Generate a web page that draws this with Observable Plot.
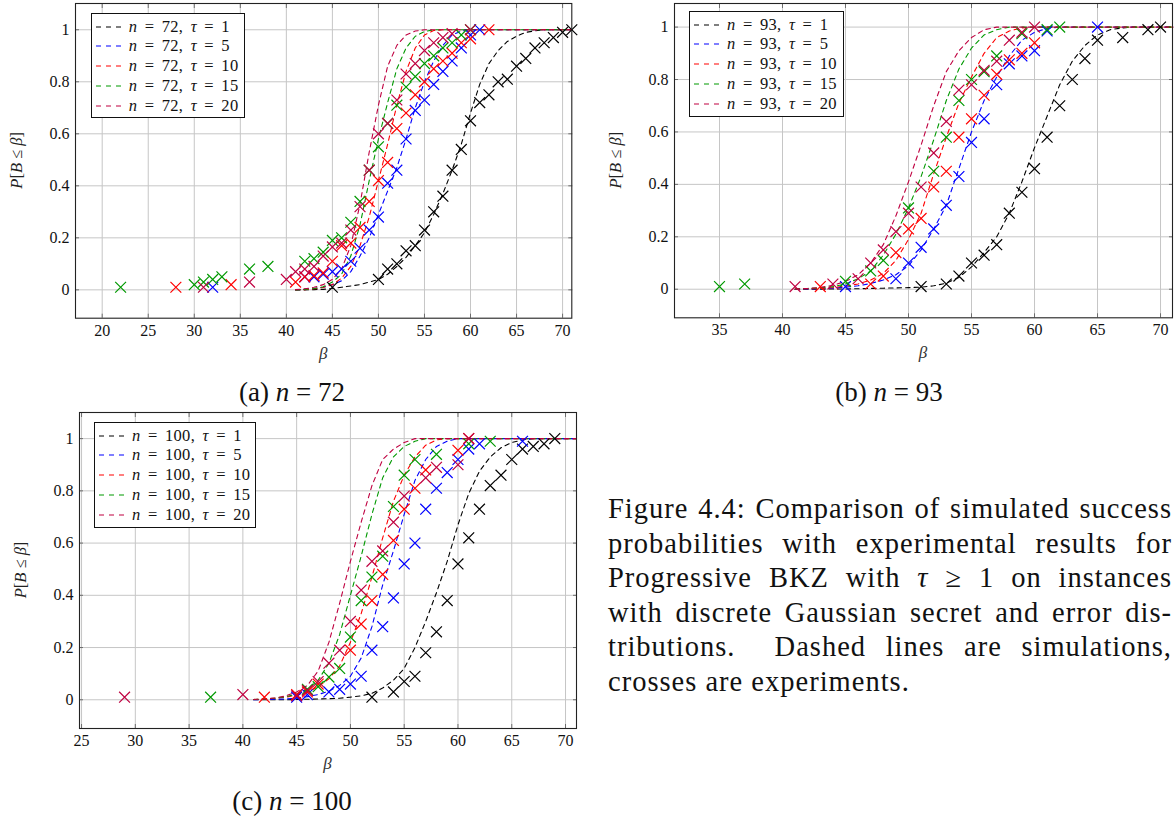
<!DOCTYPE html>
<html>
<head>
<meta charset="utf-8">
<title>Progressive BKZ success probabilities</title>
<script src="https://cdn.jsdelivr.net/npm/d3@7"></script>
<script src="https://cdn.jsdelivr.net/npm/@observablehq/plot@0.6"></script>
<style>
  html, body { margin: 0; padding: 0; background: #fff; }
  #fig { position: relative; width: 1174px; height: 823px; overflow: hidden; background: #fff;
         font-family: "Liberation Serif", "DejaVu Serif", serif; color: #111; }
  .panel { position: absolute; }
  .panel svg { display: block; max-width: none; }
  .panel svg text { font-family: "Liberation Serif", "DejaVu Serif", serif; }
  .legend { position: absolute; box-sizing: border-box; border: 1px solid #111; background: #fff;
            padding-top: 3px; font-size: 16.5px; word-spacing: 3px; letter-spacing: 0.3px; }
  .legend .row { height: 19.75px; display: flex; align-items: center; white-space: nowrap; }
  .legend .row svg { margin-left: 4px; margin-right: 7px; flex: none; }
  .caption { position: absolute; left: 608px; top: 492px; width: 564px; font-size: 28.5px;
             letter-spacing: 1px; line-height: 34.6px; color: #111; }
  .caption span { display: block; text-align: justify; text-align-last: justify; }
  .caption span.last { text-align-last: left; }
  #labels { position: absolute; left: 0; top: 0; pointer-events: none; }
</style>
</head>
<body>
<div id="fig">
  <div class="caption">
    <span>Figure 4.4: Comparison of simulated success</span>
    <span>probabilities with experimental results for</span>
    <span>Progressive BKZ with <i>τ</i> ≥ 1 on instances</span>
    <span>with discrete Gaussian secret and error dis-</span>
    <span>tributions.&nbsp; Dashed lines are simulations,</span>
    <span class="last">crosses are experiments.</span>
  </div>
</div>
<script>
// Block sizes τ and their series colours
const taus = [1, 5, 10, 15, 20];
const seriesColors = ["#000000", "#0000ff", "#ff0000", "#009900", "#bf0040"];

// Axis ticks
const yTicks = [0, 0.2, 0.4, 0.6, 0.8, 1];
const xTicks72 = [20, 25, 30, 35, 40, 45, 50, 55, 60, 65, 70];
const xTicks93 = [35, 40, 45, 50, 55, 60, 65, 70];
const xTicks100 = [25, 30, 35, 40, 45, 50, 55, 60, 65, 70];

// Simulated P[B <= beta] on a common beta grid
const simBeta = [41, 42, 43, 44, 45, 46, 47, 48, 49, 50, 51, 52, 53, 54, 55, 56,
                 57, 58, 59, 60, 61, 62, 63, 64, 65, 66, 67, 68, 69, 70, 71];

const sim72_t1  = [0, 0, 0.001, 0.002, 0.005, 0.01, 0.015, 0.02, 0.03, 0.04, 0.06, 0.09, 0.125, 0.17, 0.22, 0.29,
                   0.37, 0.46, 0.56, 0.68, 0.79, 0.87, 0.92, 0.955, 0.975, 0.99, 0.996, 1, 1, 1, 1];
const sim72_t5  = [0, 0.002, 0.005, 0.01, 0.02, 0.035, 0.07, 0.13, 0.2, 0.29, 0.38, 0.47, 0.58, 0.7, 0.8, 0.88,
                   0.94, 0.98, 0.995, 1, 1, 1, 1, 1, 1, 1, 1, 1, 1, 1, 1];
const sim72_t10 = [0, 0.001, 0.004, 0.009, 0.02, 0.045, 0.09, 0.17, 0.28, 0.42, 0.56, 0.71, 0.84, 0.93, 0.98, 0.997,
                   1, 1, 1, 1, 1, 1, 1, 1, 1, 1, 1, 1, 1, 1, 1];
const sim72_t15 = [0, 0.002, 0.005, 0.012, 0.03, 0.06, 0.13, 0.25, 0.42, 0.58, 0.72, 0.85, 0.93, 0.975, 0.993, 1,
                   1, 1, 1, 1, 1, 1, 1, 1, 1, 1, 1, 1, 1, 1, 1];
const sim72_t20 = [0.001, 0.004, 0.01, 0.02, 0.04, 0.08, 0.17, 0.33, 0.53, 0.71, 0.86, 0.94, 0.98, 0.995, 1, 1,
                   1, 1, 1, 1, 1, 1, 1, 1, 1, 1, 1, 1, 1, 1, 1];

const sim93_t1  = [0, 0, 0, 0.001, 0.001, 0.002, 0.003, 0.004, 0.005, 0.006, 0.008, 0.013, 0.023, 0.045, 0.085, 0.14,
                   0.2, 0.29, 0.41, 0.54, 0.66, 0.78, 0.87, 0.93, 0.97, 0.99, 0.997, 1, 1, 1, 1];
const sim93_t5  = [0, 0.001, 0.002, 0.004, 0.008, 0.013, 0.022, 0.035, 0.055, 0.09, 0.15, 0.23, 0.32, 0.46, 0.6, 0.72,
                   0.81, 0.89, 0.95, 0.98, 0.995, 1, 1, 1, 1, 1, 1, 1, 1, 1, 1];
const sim93_t10 = [0.001, 0.002, 0.003, 0.006, 0.012, 0.02, 0.035, 0.06, 0.11, 0.19, 0.29, 0.44, 0.58, 0.71, 0.81, 0.9,
                   0.96, 0.985, 0.997, 1, 1, 1, 1, 1, 1, 1, 1, 1, 1, 1, 1];
const sim93_t15 = [0.001, 0.003, 0.005, 0.01, 0.02, 0.04, 0.07, 0.13, 0.21, 0.31, 0.43, 0.57, 0.72, 0.84, 0.92, 0.97,
                   0.99, 1, 1, 1, 1, 1, 1, 1, 1, 1, 1, 1, 1, 1, 1];
const sim93_t20 = [0.001, 0.003, 0.007, 0.015, 0.03, 0.055, 0.1, 0.17, 0.28, 0.41, 0.55, 0.7, 0.83, 0.91, 0.96, 0.99,
                   1, 1, 1, 1, 1, 1, 1, 1, 1, 1, 1, 1, 1, 1, 1];

const sim100_t1  = [0, 0, 0, 0, 0.001, 0.002, 0.003, 0.004, 0.006, 0.01, 0.015, 0.025, 0.045, 0.075, 0.12, 0.2,
                    0.3, 0.41, 0.53, 0.67, 0.79, 0.875, 0.93, 0.965, 0.985, 0.995, 1, 1, 1, 1, 1];
const sim100_t5  = [0, 0.001, 0.002, 0.003, 0.006, 0.012, 0.02, 0.033, 0.055, 0.09, 0.16, 0.28, 0.44, 0.57, 0.71, 0.84,
                    0.92, 0.97, 0.99, 1, 1, 1, 1, 1, 1, 1, 1, 1, 1, 1, 1];
const sim100_t10 = [0.001, 0.003, 0.006, 0.01, 0.018, 0.03, 0.05, 0.08, 0.13, 0.22, 0.33, 0.47, 0.62, 0.76, 0.86, 0.93,
                    0.975, 0.995, 1, 1, 1, 1, 1, 1, 1, 1, 1, 1, 1, 1, 1];
const sim100_t15 = [0.001, 0.003, 0.006, 0.012, 0.022, 0.04, 0.075, 0.14, 0.25, 0.4, 0.55, 0.71, 0.85, 0.93, 0.97, 0.99,
                    1, 1, 1, 1, 1, 1, 1, 1, 1, 1, 1, 1, 1, 1, 1];
const sim100_t20 = [0.001, 0.003, 0.007, 0.015, 0.03, 0.055, 0.11, 0.22, 0.37, 0.53, 0.68, 0.82, 0.92, 0.96, 0.985, 1,
                    1, 1, 1, 1, 1, 1, 1, 1, 1, 1, 1, 1, 1, 1, 1];

// Experimental success rates (crosses)
const exp72_t1_beta  = [45, 50, 51, 52, 53, 54, 55, 56, 57, 58, 59, 60, 61, 62, 63, 64, 65, 66, 67, 68, 69, 70, 71];
const exp72_t1_p     = [0.01, 0.04, 0.08, 0.1, 0.15, 0.17, 0.23, 0.3, 0.36, 0.46, 0.54, 0.65, 0.72, 0.75, 0.8, 0.81,
                        0.86, 0.89, 0.93, 0.95, 0.97, 0.99, 1];
const exp72_t5_beta  = [32, 42, 43, 44, 45, 46, 47, 48, 49, 50, 51, 52, 53, 54, 55, 56, 57, 58, 59, 60, 61];
const exp72_t5_p     = [0.01, 0.05, 0.05, 0.06, 0.07, 0.08, 0.11, 0.16, 0.23, 0.28, 0.41, 0.46, 0.58, 0.69, 0.73,
                        0.79, 0.84, 0.88, 0.93, 0.98, 1];
const exp72_t10_beta = [28, 34, 41, 42, 43, 44, 45, 46, 47, 48, 49, 50, 51, 52, 53, 54, 55, 56, 57, 58, 59, 60, 62];
const exp72_t10_p    = [0.01, 0.02, 0.03, 0.05, 0.055, 0.065, 0.11, 0.17, 0.18, 0.24, 0.34, 0.42, 0.49, 0.62, 0.68,
                        0.75, 0.8, 0.85, 0.88, 0.91, 0.95, 0.965, 1];
const exp72_t15_beta = [22, 30, 31, 32, 33, 36, 38, 42, 43, 44, 45, 46, 47, 48, 49, 50, 51, 52, 53, 54, 55, 56, 57,
                        58, 59, 60];
const exp72_t15_p    = [0.01, 0.02, 0.03, 0.04, 0.05, 0.08, 0.09, 0.11, 0.12, 0.145, 0.19, 0.2, 0.26, 0.34, 0.46,
                        0.55, 0.64, 0.71, 0.78, 0.82, 0.87, 0.9, 0.93, 0.95, 0.98, 1];
const exp72_t20_beta = [31, 36, 40, 41, 42, 43, 44, 45, 46, 47, 48, 49, 50, 51, 52, 53, 54, 55, 56, 57, 58, 60];
const exp72_t20_p    = [0.01, 0.03, 0.04, 0.07, 0.08, 0.09, 0.13, 0.165, 0.18, 0.23, 0.32, 0.46, 0.6, 0.64, 0.73,
                        0.83, 0.87, 0.92, 0.95, 0.97, 0.985, 1];

const exp93_t1_beta  = [51, 53, 54, 55, 56, 57, 58, 59, 60, 61, 62, 63, 64, 65, 67, 69, 70];
const exp93_t1_p     = [0.01, 0.02, 0.05, 0.1, 0.13, 0.17, 0.29, 0.37, 0.46, 0.58, 0.7, 0.8, 0.88, 0.95, 0.96, 0.99, 1];
const exp93_t5_beta  = [45, 49, 50, 51, 52, 53, 54, 55, 56, 57, 58, 59, 60, 61, 65];
const exp93_t5_p     = [0.01, 0.04, 0.1, 0.16, 0.23, 0.32, 0.43, 0.56, 0.65, 0.78, 0.86, 0.89, 0.91, 0.985, 1];
const exp93_t10_beta = [43, 47, 48, 49, 50, 51, 52, 53, 54, 55, 56, 57, 58, 59, 60];
const exp93_t10_p    = [0.01, 0.02, 0.05, 0.14, 0.23, 0.27, 0.39, 0.45, 0.58, 0.65, 0.74, 0.82, 0.875, 0.9, 0.94];
const exp93_t15_beta = [35, 37, 45, 47, 48, 50, 52, 53, 54, 55, 56, 57, 59, 61, 62];
const exp93_t15_p    = [0.01, 0.02, 0.03, 0.07, 0.11, 0.31, 0.45, 0.58, 0.72, 0.8, 0.83, 0.89, 0.975, 0.99, 1];
const exp93_t20_beta = [41, 44, 46, 47, 48, 49, 50, 51, 52, 53, 54, 55, 56, 57, 58, 59, 60];
const exp93_t20_p    = [0.01, 0.02, 0.04, 0.1, 0.15, 0.22, 0.29, 0.39, 0.52, 0.64, 0.76, 0.78, 0.835, 0.87, 0.95,
                        0.98, 1];

const exp100_t1_beta  = [52, 54, 55, 56, 57, 58, 59, 60, 61, 62, 63, 64, 65, 66, 67, 68, 69];
const exp100_t1_p     = [0.01, 0.03, 0.07, 0.09, 0.18, 0.26, 0.38, 0.52, 0.62, 0.73, 0.82, 0.86, 0.92, 0.96, 0.97,
                         0.98, 1];
const exp100_t5_beta  = [45, 46, 48, 49, 50, 51, 52, 53, 54, 55, 56, 57, 58, 59, 60, 61, 62, 66];
const exp100_t5_p     = [0.01, 0.02, 0.03, 0.04, 0.06, 0.09, 0.19, 0.28, 0.39, 0.52, 0.6, 0.73, 0.81, 0.87, 0.92,
                         0.96, 0.98, 0.99];
const exp100_t10_beta = [42, 45, 46, 47, 50, 51, 52, 53, 54, 55, 56, 57, 60, 61];
const exp100_t10_p    = [0.01, 0.02, 0.03, 0.06, 0.19, 0.29, 0.38, 0.48, 0.61, 0.73, 0.81, 0.88, 0.955, 1];
const exp100_t15_beta = [37, 46, 47, 48, 49, 50, 51, 52, 53, 54, 55, 56, 58, 61, 63];
const exp100_t15_p    = [0.01, 0.04, 0.05, 0.087, 0.12, 0.24, 0.38, 0.47, 0.55, 0.74, 0.86, 0.92, 0.94, 0.98, 0.99];
const exp100_t20_beta = [29, 40, 45, 46, 47, 48, 49, 50, 51, 52, 53, 54, 55, 57, 58, 60, 61];
const exp100_t20_p    = [0.01, 0.02, 0.015, 0.036, 0.07, 0.14, 0.19, 0.3, 0.42, 0.53, 0.57, 0.68, 0.78, 0.85, 0.89,
                         0.9, 1];

const fig = document.getElementById("fig");
const serif = '"Liberation Serif", "DejaVu Serif", serif';

function drawPanel(cfg) {
  const simRows = cfg.sims.flatMap(([pArr, tau]) => simBeta.map((b, i) => ({beta: b, p: pArr[i], tau})));
  const expRows = cfg.exps.flatMap(([bArr, pArr, tau]) => bArr.map((b, i) => ({beta: b, p: pArr[i], tau})));
  const m = cfg.margin;
  const tickStyle = {tickSize: -4, tickFormat: () => "", label: null, stroke: "#555", strokeWidth: 0.8};

  const svg = Plot.plot({
    width: cfg.width,
    height: cfg.height,
    marginTop: m.top, marginRight: m.right, marginBottom: m.bottom, marginLeft: m.left,
    style: {background: "transparent", fontSize: "16px", color: "#111", overflow: "visible"},
    x: {domain: cfg.xDomain},
    y: {domain: cfg.yDomain},
    color: {type: "ordinal", domain: taus, range: seriesColors},
    marks: [
      Plot.gridX(cfg.xTicks, {stroke: "#c6c6c6", strokeOpacity: 1, strokeWidth: 1}),
      Plot.gridY(yTicks, {stroke: "#c6c6c6", strokeOpacity: 1, strokeWidth: 1}),
      Plot.axisX(cfg.xTicks, {anchor: "bottom", ...tickStyle}),
      Plot.axisX(cfg.xTicks, {anchor: "top", ...tickStyle}),
      Plot.axisY(yTicks, {anchor: "left", ...tickStyle}),
      Plot.axisY(yTicks, {anchor: "right", ...tickStyle}),
      Plot.axisX(cfg.xTicks, {anchor: "bottom", tickSize: 0, tickPadding: 6, label: null, tickFormat: d => String(d)}),
      Plot.axisY(yTicks, {anchor: "left", tickSize: 0, tickPadding: 6, label: null, tickFormat: d => String(d)}),
      Plot.line(simRows, {x: "beta", y: "p", z: "tau", stroke: "tau", strokeWidth: 1.1, strokeDasharray: "4.5,4"}),
      Plot.dot(expRows, {x: "beta", y: "p", stroke: "tau", symbol: "times", r: 5, strokeWidth: 1.2}),
      Plot.frame({stroke: "#222", strokeWidth: 1.1})
    ]
  });

  const holder = document.createElement("div");
  holder.className = "panel";
  holder.style.left = cfg.left + "px";
  holder.style.top = cfg.top + "px";
  holder.appendChild(svg);
  fig.appendChild(holder);

  // serif type throughout the panel
  const s = d3.select(svg).attr("font-family", serif).style("font-family", serif);

  // axis titles with italic math symbols
  const cx = m.left + (cfg.width - m.left - m.right) / 2;
  const cy = m.top + (cfg.height - m.top - m.bottom) / 2;
  s.append("text")
    .attr("x", cx).attr("y", cfg.height - m.bottom + 41)
    .attr("text-anchor", "middle").attr("font-style", "italic")
    .attr("font-size", 17).attr("fill", "#333").text("β");
  const yl = s.append("text")
    .attr("transform", `translate(${m.left - 53},${cy}) rotate(-90)`)
    .attr("text-anchor", "middle").attr("font-size", 16.5).attr("fill", "#222");
  [["P", true], ["[", false], ["B", true], [" ≤ ", false], ["β", true], ["]", false]].forEach(([t, it]) => {
    const ts = yl.append("tspan").text(t);
    if (it) ts.attr("font-style", "italic");
  });

  // legend box
  const lg = document.createElement("div");
  lg.className = "legend";
  Object.assign(lg.style, {
    left: cfg.legend.left + "px", top: cfg.legend.top + "px",
    width: cfg.legend.width + "px", height: cfg.legend.height + "px"
  });
  taus.forEach((tau, i) => {
    const row = document.createElement("div");
    row.className = "row";
    const sw = d3.create("svg").attr("width", 26).attr("height", 10);
    sw.append("line").attr("x1", 0).attr("x2", 26).attr("y1", 5).attr("y2", 5)
      .attr("stroke", seriesColors[i]).attr("stroke-width", 1.1).attr("stroke-dasharray", "5,5");
    row.appendChild(sw.node());
    const span = document.createElement("span");
    span.innerHTML = `<i>n</i> = ${cfg.n}, <i>τ</i> = ${tau}`;
    row.appendChild(span);
    lg.appendChild(row);
  });
  fig.appendChild(lg);
}

drawPanel({
  n: 72, left: 0, top: 0, width: 580, height: 365,
  margin: {top: 3, right: 8.7, bottom: 47.3, left: 75},
  xDomain: [17.1, 71], yDomain: [-0.109, 1.101], xTicks: xTicks72,
  legend: {left: 90.7, top: 12.7, width: 154.3, height: 105.6},
  sims: [[sim72_t1, 1], [sim72_t5, 5], [sim72_t10, 10], [sim72_t15, 15], [sim72_t20, 20]],
  exps: [[exp72_t1_beta, exp72_t1_p, 1], [exp72_t5_beta, exp72_t5_p, 5], [exp72_t10_beta, exp72_t10_p, 10],
         [exp72_t15_beta, exp72_t15_p, 15], [exp72_t20_beta, exp72_t20_p, 20]]
});

drawPanel({
  n: 93, left: 600, top: 0, width: 574, height: 365,
  margin: {top: 3, right: 2, bottom: 47.7, left: 74},
  xDomain: [31.43, 70.95], yDomain: [-0.109, 1.09], xTicks: xTicks93,
  legend: {left: 689, top: 10.7, width: 155.3, height: 106.6},
  sims: [[sim93_t1, 1], [sim93_t5, 5], [sim93_t10, 10], [sim93_t15, 15], [sim93_t20, 20]],
  exps: [[exp93_t1_beta, exp93_t1_p, 1], [exp93_t5_beta, exp93_t5_p, 5], [exp93_t10_beta, exp93_t10_p, 10],
         [exp93_t15_beta, exp93_t15_p, 15], [exp93_t20_beta, exp93_t20_p, 20]]
});

drawPanel({
  n: 100, left: 0, top: 400, width: 580, height: 380,
  margin: {top: 12, right: 4, bottom: 52, left: 79},
  xDomain: [24.81, 71.02], yDomain: [-0.11, 1.1], xTicks: xTicks100,
  legend: {left: 94, top: 421.7, width: 162, height: 106.6},
  sims: [[sim100_t1, 1], [sim100_t5, 5], [sim100_t10, 10], [sim100_t15, 15], [sim100_t20, 20]],
  exps: [[exp100_t1_beta, exp100_t1_p, 1], [exp100_t5_beta, exp100_t5_p, 5], [exp100_t10_beta, exp100_t10_p, 10],
         [exp100_t15_beta, exp100_t15_p, 15], [exp100_t20_beta, exp100_t20_p, 20]]
});

// sub-figure captions
const labels = d3.select(fig).append("svg")
  .attr("id", "labels").attr("width", 1174).attr("height", 823)
  .attr("font-family", serif).style("font-family", serif).style("font-size", "27px").attr("fill", "#111");
[["(a) ", "72", 292, 401], ["(b) ", "93", 889, 401], ["(c) ", "100", 292, 810]].forEach(([tag, n, x, y]) => {
  const t = labels.append("text").attr("x", x).attr("y", y).attr("text-anchor", "middle");
  t.append("tspan").text(tag);
  t.append("tspan").attr("font-style", "italic").text("n");
  t.append("tspan").text(" = " + n);
});
</script>
</body>
</html>
